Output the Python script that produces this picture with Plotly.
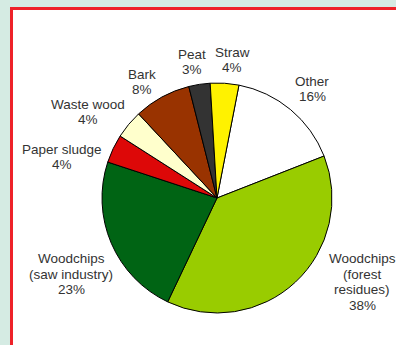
import plotly.graph_objects as go

# Fuel shares, listed clockwise from the "Other" slice
categories = ["Other", "Woodchips (forest residues)", "Woodchips (saw industry)",
              "Paper sludge", "Waste wood", "Bark", "Peat", "Straw"]
shares = [16, 38, 23, 4, 4, 8, 3, 4]
label_lines = [["Other", "16%"], ["Woodchips", "(forest", "residues)", "38%"],
               ["Woodchips", "(saw industry)", "23%"], ["Paper sludge", "4%"],
               ["Waste wood", "4%"], ["Bark", "8%"], ["Peat", "3%"], ["Straw", "4%"]]
slice_colors = ["#ffffff", "#99cc00", "#006414", "#dd0808",
                "#ffffcc", "#993300", "#333333", "#fff200"]

W, H = 396, 345
cx, cy, r = 217, 198, 115
line_gap = 15.5

fig = go.Figure(go.Pie(
    labels=categories,
    values=shares,
    sort=False,
    direction="clockwise",
    rotation=11,
    textinfo="none",
    hoverinfo="label+percent",
    marker=dict(colors=slice_colors, line=dict(color="#000000", width=1)),
    domain=dict(x=[(cx - r) / W, (cx + r) / W], y=[1 - (cy + r) / H, 1 - (cy - r) / H]),
    showlegend=False,
))

# label anchor points (pixel centres of each text block)
label_pos = [(312, 89), (362, 282), (71, 274), (62, 157),
             (88, 112), (142, 82), (192, 62), (232, 60)]

annotations = []
for lines, (px, py) in zip(label_lines, label_pos):
    top = py - line_gap * (len(lines) - 1) / 2
    for i, line in enumerate(lines):
        ly = top + i * line_gap
        annotations.append(dict(
            x=px / W, y=1 - ly / H, xref="paper", yref="paper",
            text=line, showarrow=False, xanchor="center", yanchor="middle",
            font=dict(family="Liberation Sans, Arial, sans-serif",
                      size=13.5, color="#333333"),
        ))

fig.update_layout(
    width=W, height=H,
    margin=dict(l=0, r=0, t=0, b=0),
    paper_bgcolor="#d5ebe3",
    plot_bgcolor="#d5ebe3",
    shapes=[dict(type="rect", xref="paper", yref="paper",
                 x0=11.5 / W, x1=1.05, y0=-0.05, y1=1 - 8.5 / H,
                 fillcolor="#ffffff", line=dict(color="#ee2229", width=3),
                 layer="below")],
    annotations=annotations,
)

fig.write_html("out.html")
